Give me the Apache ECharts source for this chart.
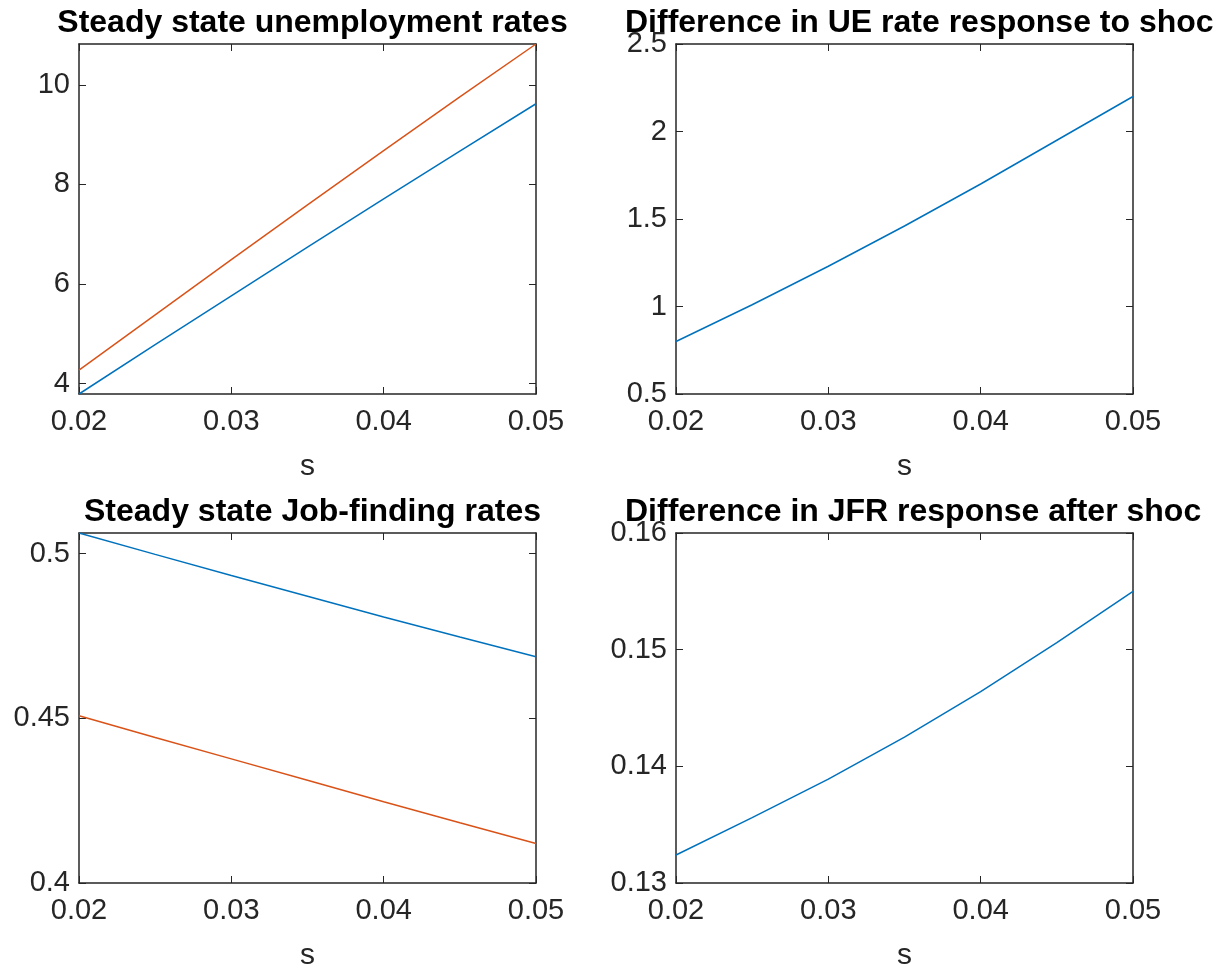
<!DOCTYPE html>
<html>
<head>
<meta charset="utf-8">
<script src="https://cdn.jsdelivr.net/npm/echarts@6/dist/echarts.min.js"></script>
<style>
  html, body { margin: 0; padding: 0; background: #fff; }
  #chart { width: 1217px; height: 973px; }
</style>
</head>
<body>
<div id="chart"></div>
<script>
// separation rate s on the x axis
const sValues = [0.02, 0.025, 0.03, 0.035, 0.04, 0.045, 0.05];
const sTicks = [0.02, 0.03, 0.04, 0.05];

// steady state unemployment rates (%)
const ueBlue = [3.79, 4.78, 5.76, 6.74, 7.71, 8.67, 9.62];
const ueRed = [4.27, 5.38, 6.49, 7.59, 8.68, 9.76, 10.82];
const ueTicks = [4, 6, 8, 10];

// difference in UE rate response to shock
const ueDiff = [0.80, 1.01, 1.23, 1.46, 1.70, 1.95, 2.20];
const ueDiffTicks = [0.5, 1, 1.5, 2, 2.5];

// steady state job-finding rates
const jfrBlue = [0.5063, 0.4998, 0.4934, 0.4871, 0.4808, 0.4747, 0.4687];
const jfrRed = [0.4508, 0.4442, 0.4377, 0.4312, 0.4247, 0.4183, 0.4120];
const jfrTicks = [0.4, 0.45, 0.5];

// difference in JFR response after shock
const jfrDiff = [0.1324, 0.1356, 0.1389, 0.1425, 0.1464, 0.1506, 0.1550];
const jfrDiffTicks = [0.13, 0.14, 0.15, 0.16];

const titles = [
  'Steady state unemployment rates',
  'Difference in UE rate response to shoc',
  'Steady state Job-finding rates',
  'Difference in JFR response after shoc'
];

const FONT = '"Liberation Sans", Helvetica, Arial, sans-serif';
const AXIS_COLOR = '#262626';
const BLUE = '#0072BD';
const RED = '#D95319';

const panels = [
  { left: 79, top: 44, height: 350, ymin: 3.79, ymax: 10.82, yTicks: ueTicks, title: titles[0], titleAlign: 'center' },
  { left: 676, top: 44, height: 350, ymin: 0.5, ymax: 2.5, yTicks: ueDiffTicks, title: titles[1], titleAlign: 'left' },
  { left: 79, top: 533, height: 350, ymin: 0.4, ymax: 0.5063, yTicks: jfrTicks, title: titles[2], titleAlign: 'center' },
  { left: 676, top: 533, height: 350, ymin: 0.13, ymax: 0.16, yTicks: jfrDiffTicks, title: titles[3], titleAlign: 'left' }
];
const plotWidth = 457;

function pairs(ys) {
  return sValues.map((s, i) => [s, ys[i]]);
}

const chart = echarts.init(document.getElementById('chart'));

const grid = [], xAxis = [], yAxis = [], title = [];
panels.forEach((p, i) => {
  grid.push({ left: p.left, top: p.top, width: plotWidth, height: p.height, containLabel: false });
  title.push({
    text: p.title,
    left: p.titleAlign === 'center' ? p.left + plotWidth / 2 : 620,
    top: p.top - 42,
    textAlign: p.titleAlign,
    textStyle: { fontFamily: FONT, fontWeight: 'bold', fontSize: 32, color: '#000' }
  });
  const tickStyle = { show: true, inside: true, length: 7, lineStyle: { color: AXIS_COLOR, width: 1 } };
  const lineStyle = { show: true, lineStyle: { color: AXIS_COLOR, width: 1.5 } };
  xAxis.push({
    gridIndex: i, type: 'value', position: 'bottom', min: 0.02, max: 0.05,
    axisLine: lineStyle,
    axisTick: Object.assign({ customValues: sTicks }, tickStyle),
    axisLabel: {
      customValues: sTicks, color: AXIS_COLOR, fontFamily: FONT, fontSize: 29, margin: 13,
      formatter: v => v.toFixed(2)
    },
    splitLine: { show: false },
    name: 's', nameLocation: 'middle', nameGap: 58,
    nameTextStyle: { color: AXIS_COLOR, fontFamily: FONT, fontSize: 30 }
  });
  xAxis.push({
    gridIndex: i, type: 'value', position: 'top', min: 0.02, max: 0.05,
    axisLine: lineStyle,
    axisTick: Object.assign({ customValues: sTicks }, tickStyle),
    axisLabel: { show: false },
    splitLine: { show: false }
  });
  yAxis.push({
    gridIndex: i, type: 'value', position: 'left', min: p.ymin, max: p.ymax,
    axisLine: lineStyle,
    axisTick: Object.assign({ customValues: p.yTicks }, tickStyle),
    axisLabel: {
      customValues: p.yTicks, color: AXIS_COLOR, fontFamily: FONT, fontSize: 29, margin: 9,
      formatter: v => String(+v.toFixed(4))
    },
    splitLine: { show: false }
  });
  yAxis.push({
    gridIndex: i, type: 'value', position: 'right', min: p.ymin, max: p.ymax,
    axisLine: lineStyle,
    axisTick: Object.assign({ customValues: p.yTicks }, tickStyle),
    axisLabel: { show: false },
    splitLine: { show: false }
  });
});

function lineSeries(panel, ys, color) {
  return {
    type: 'line', xAxisIndex: panel * 2, yAxisIndex: panel * 2,
    data: pairs(ys), showSymbol: false, symbol: 'none', smooth: false,
    lineStyle: { color: color, width: 1.5 }
  };
}

chart.setOption({
  animation: false,
  backgroundColor: '#fff',
  title: title,
  grid: grid,
  xAxis: xAxis,
  yAxis: yAxis,
  series: [
    lineSeries(0, ueBlue, BLUE),
    lineSeries(0, ueRed, RED),
    lineSeries(1, ueDiff, BLUE),
    lineSeries(2, jfrBlue, BLUE),
    lineSeries(2, jfrRed, RED),
    lineSeries(3, jfrDiff, BLUE)
  ]
});
</script>
</body>
</html>
